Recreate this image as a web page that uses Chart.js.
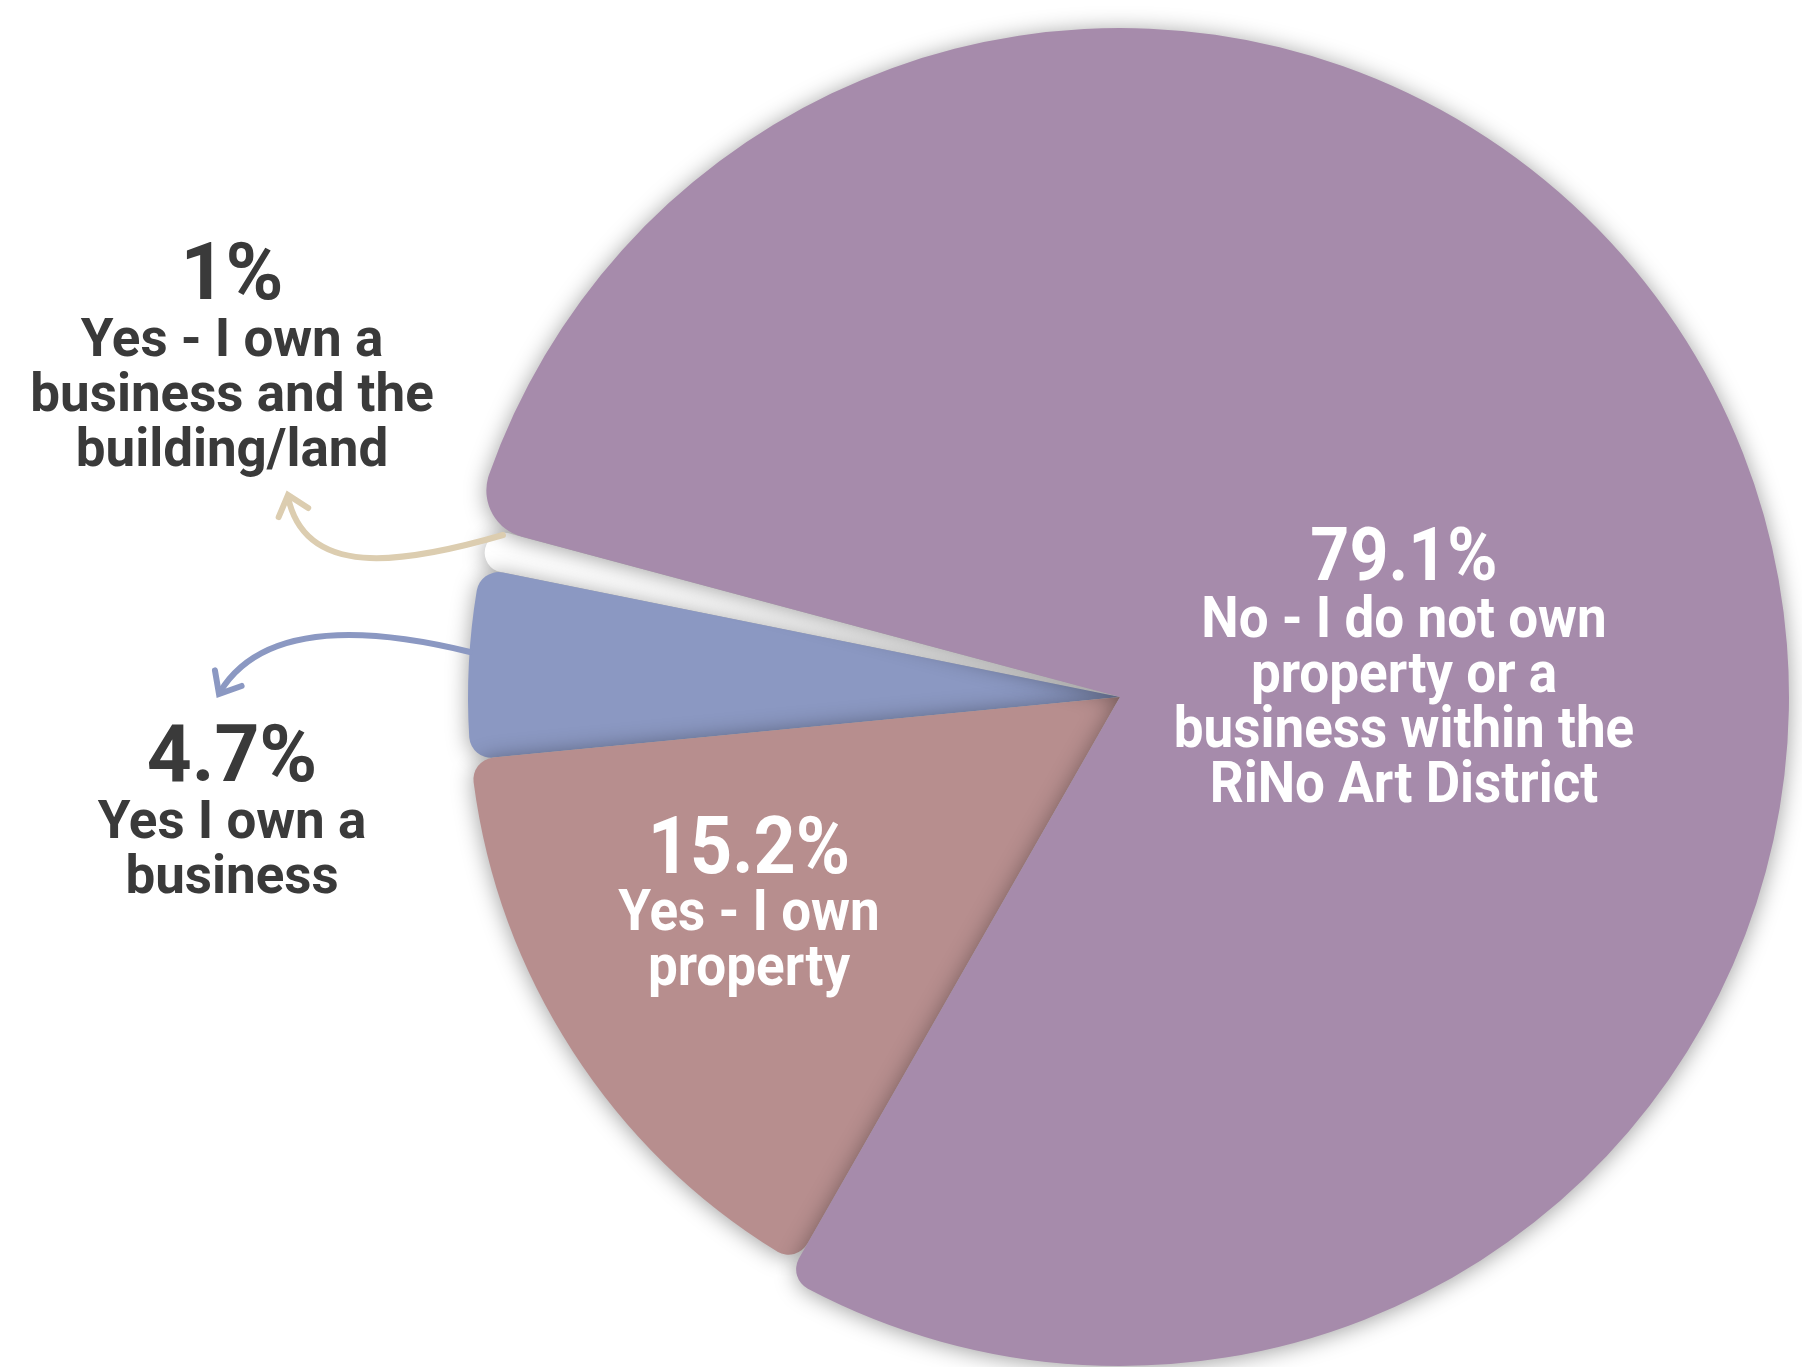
<!DOCTYPE html>
<html>
<head>
<meta charset="utf-8">
<script src="https://cdn.jsdelivr.net/npm/chart.js@4.4.0/dist/chart.umd.min.js"></script>
<style>
    html, body { margin: 0; padding: 0; background: #fff; }
    #box { width: 1802px; height: 1367px; }
</style>
</head>
<body>
<div id="box"><canvas id="myChart"></canvas></div>
<script>
// categorias e valores (%)
var categories = [
    'No - I do not own property or a business within the RiNo Art District',
    'Yes - I own property',
    'Yes I own a business',
    'Yes - I own a business and the building/land'
];
var values = [79.1, 15.2, 4.7, 1];
var percentLabels = ['79.1%', '15.2%', '4.7%', '1%'];
var labelLines = [
    ['No - I do not own', 'property or a', 'business within the', 'RiNo Art District'],
    ['Yes - I own', 'property'],
    ['Yes I own a', 'business'],
    ['Yes - I own a', 'business and the', 'building/land']
];
var sliceColors = ['#a68bab', '#b78e8e', '#8b98c2', '#ffffff'];

// where each label block goes (baseline of the % line)
var labelStyle = [
    { x: 1404, y: 580, big: 74, small: 57, color: '#ffffff', sxBig: 0.92, sx: 0.93 },
    { x: 749, y: 873, big: 80, small: 57, color: '#ffffff', sxBig: 0.92, sx: 0.93 },
    { x: 232, y: 781, big: 80, small: 54, color: '#3a3a3a', sxBig: 0.98, sx: 0.98 },
    { x: 232, y: 299, big: 80, small: 54, color: '#3a3a3a', sxBig: 0.98, sx: 0.98 }
];

function drawText(ctx, str, x, y, size, sx) {
    ctx.save();
    ctx.translate(x, y);
    ctx.scale(sx, 1);
    ctx.font = 'bold ' + size + 'px Roboto';
    ctx.fillText(str, 0, 0);
    ctx.restore();
}

function arrowHead(ctx, tx, ty, ang, len) {
    // ang = direction the arrow points to
    ctx.beginPath();
    ctx.moveTo(tx + len * Math.cos(ang + Math.PI - 0.7), ty + len * Math.sin(ang + Math.PI - 0.7));
    ctx.lineTo(tx, ty);
    ctx.lineTo(tx + len * Math.cos(ang + Math.PI + 0.7), ty + len * Math.sin(ang + Math.PI + 0.7));
    ctx.stroke();
}

// small slices sit a little inside the big one
var slicePlugin = {
    id: 'slices',
    afterDatasetUpdate: function (chart) {
        var arcs = chart.getDatasetMeta(0).data;
        arcs[0].outerRadius += 2;
        for (var i = 1; i < arcs.length; i++) {
            arcs[i].outerRadius -= 15;
        }
    },
    beforeDatasetsDraw: function (chart) {
        var ctx = chart.ctx;
        var arcs = chart.getDatasetMeta(0).data;
        ctx.save();
        ctx.shadowColor = 'rgba(0,0,0,0.38)';
        ctx.shadowBlur = 22;
        ctx.shadowOffsetX = 0;
        ctx.shadowOffsetY = 2;
        // last slice first, so the big one ends up on top
        for (var i = arcs.length - 1; i >= 0; i--) {
            arcs[i].draw(ctx, chart.chartArea);
        }
        ctx.restore();
        return false;
    }
};

var labelPlugin = {
    id: 'labels',
    afterDraw: function (chart) {
        var ctx = chart.ctx;
        ctx.save();
        ctx.textAlign = 'center';
        ctx.textBaseline = 'alphabetic';
        for (var i = 0; i < values.length; i++) {
            var s = labelStyle[i];
            ctx.fillStyle = s.color;
            drawText(ctx, percentLabels[i], s.x, s.y, s.big, s.sxBig);
            for (var k = 0; k < labelLines[i].length; k++) {
                drawText(ctx, labelLines[i][k], s.x, s.y + 57 + k * 55, s.small, s.sx);
            }
        }

        // arrows for the two small slices
        ctx.lineWidth = 6;
        ctx.lineCap = 'round';
        ctx.strokeStyle = '#dccdb0';
        ctx.beginPath();
        ctx.moveTo(503, 535);
        ctx.bezierCurveTo(400, 565, 305, 578, 288, 497);
        ctx.stroke();
        arrowHead(ctx, 288, 495, -Math.PI / 2 - 0.3, 24);

        ctx.strokeStyle = '#8b98c2';
        ctx.beginPath();
        ctx.moveTo(470, 652);
        ctx.bezierCurveTo(380, 630, 265, 618, 220, 692);
        ctx.stroke();
        arrowHead(ctx, 219, 694, 2.1, 24);
        ctx.restore();
    }
};

const ctx = document.getElementById('myChart');
new Chart(ctx, {
    type: 'pie',
    data: {
        labels: categories,
        datasets: [{
            data: values,
            backgroundColor: sliceColors,
            borderWidth: 0,
            borderRadius: function (c) {
                if (c.dataIndex === 0) {
                    return { outerStart: 48, outerEnd: 22, innerStart: 0, innerEnd: 0 };
                }
                return 22;
            }
        }]
    },
    options: {
        responsive: true,
        maintainAspectRatio: false,
        animation: false,
        rotation: -75,
        layout: {
            padding: { left: 453, right: 15, top: 30, bottom: 3 }
        },
        plugins: {
            legend: { display: false },
            tooltip: { enabled: false }
        }
    },
    plugins: [slicePlugin, labelPlugin]
});
</script>
</body>
</html>
